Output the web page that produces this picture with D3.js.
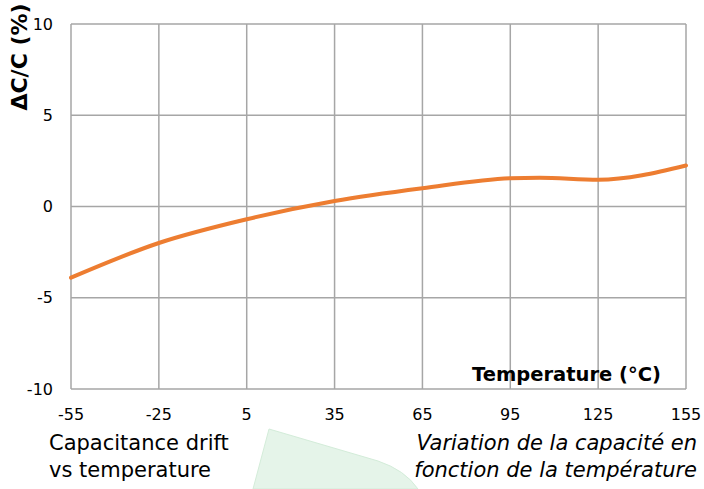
<!DOCTYPE html>
<html>
<head>
<meta charset="utf-8">
<title>Capacitance drift</title>
<script src="https://d3js.org/d3.v7.min.js"></script>
<style>
body { margin: 0; background: #fff; }
svg text { font-family: Tahoma, "DejaVu Sans", sans-serif; fill: #000; }
</style>
</head>
<body>
<div id="chart"></div>
<script>
// temperature (°C) and capacitance drift (%)
var temps = [-55, -25, 5, 35, 65, 95, 105, 125, 155];
var drift = [-3.9, -2.0, -0.7, 0.3, 1.0, 1.55, 1.58, 1.47, 2.25];
var xTicks = [-55, -25, 5, 35, 65, 95, 125, 155];
var yTicks = [-10, -5, 0, 5, 10];

var W = 704, H = 489;
var margin = {top: 24, right: 18, bottom: 100, left: 71};
var width = W - margin.left - margin.right,
    height = H - margin.top - margin.bottom;

var svg = d3.select("#chart").append("svg")
  .attr("width", W).attr("height", H);

// faint green decoration at the bottom
svg.append("path")
  .attr("d", "M253,489 L269,429 L378,461 Q405,470 418,489 Z")
  .attr("fill", "#e5f4e9").attr("stroke", "#d3ecd9").attr("stroke-width", 1);

var g = svg.append("g")
  .attr("transform", "translate(" + margin.left + "," + margin.top + ")");

var x = d3.scaleLinear().domain([-55, 155]).range([0, width]);
var y = d3.scaleLinear().domain([-10, 10]).range([height, 0]);

// grid
g.append("g").selectAll("line").data(xTicks).enter().append("line")
  .attr("x1", d => x(d)).attr("x2", d => x(d))
  .attr("y1", 0).attr("y2", height)
  .attr("stroke", "#a6a6a6").attr("stroke-width", 1.5);
g.append("g").selectAll("line").data(yTicks).enter().append("line")
  .attr("x1", 0).attr("x2", width)
  .attr("y1", d => y(d)).attr("y2", d => y(d))
  .attr("stroke", "#a6a6a6").attr("stroke-width", 1.5);

// tick labels
g.append("g").selectAll("text").data(yTicks).enter().append("text")
  .attr("x", -18).attr("y", d => y(d)).attr("dy", "0.35em")
  .attr("text-anchor", "end").style("font-size", "16px")
  .text(d => d);
g.append("g").selectAll("text").data(xTicks).enter().append("text")
  .attr("x", d => x(d)).attr("y", height + 31)
  .attr("text-anchor", "middle").style("font-size", "16px")
  .text(d => d);

// curve
var line = d3.line()
  .x((d, i) => x(temps[i])).y(d => y(d))
  .curve(d3.curveMonotoneX);
g.append("path").datum(drift)
  .attr("d", line)
  .attr("fill", "none").attr("stroke", "#ed7d31").attr("stroke-width", 4)
  .attr("stroke-linecap", "round");

// axis titles
svg.append("text")
  .attr("transform", "translate(27,57) rotate(-90)")
  .attr("text-anchor", "middle").style("font-size", "22px").style("font-weight", "bold")
  .text("ΔC/C (%)");
svg.append("text")
  .attr("x", 661).attr("y", 381)
  .attr("text-anchor", "end").style("font-size", "19.5px").style("font-weight", "bold")
  .text("Temperature (°C)");

// captions
var capL = svg.append("text").style("font-size", "21px");
capL.append("tspan").attr("x", 49).attr("y", 450).text("Capacitance drift");
capL.append("tspan").attr("x", 49).attr("y", 477).text("vs temperature");
var capR = svg.append("text").style("font-size", "21px").style("font-style", "italic")
  .attr("text-anchor", "end");
capR.append("tspan").attr("x", 697).attr("y", 450).text("Variation de la capacité en");
capR.append("tspan").attr("x", 697).attr("y", 477).text("fonction de la température");
</script>
</body>
</html>
